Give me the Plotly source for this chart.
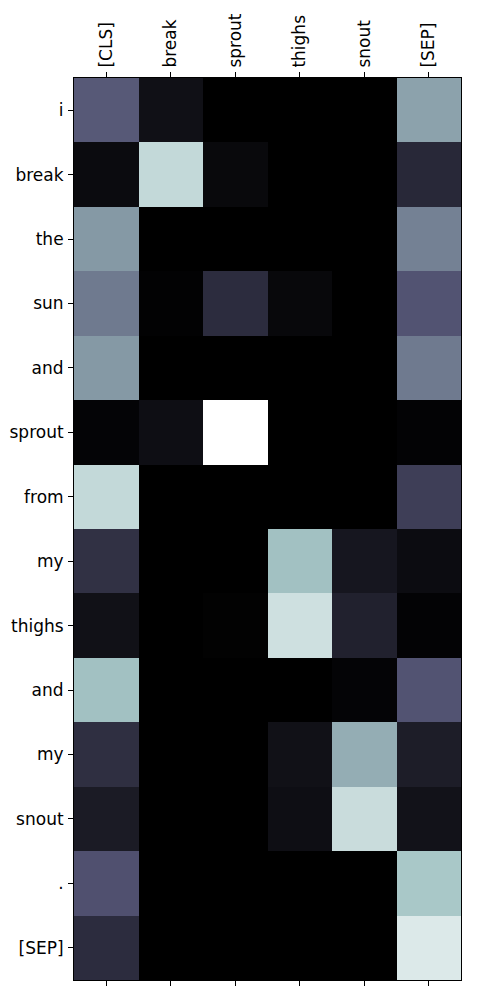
import plotly.graph_objects as go

col_labels = ["[CLS]", "break", "sprout", "thighs", "snout", "[SEP]"]
row_labels = ["i", "break", "the", "sun", "and", "sprout", "from", "my",
              "thighs", "and", "my", "snout", ".", "[SEP]"]

# attention weights (rows = query tokens, columns = key tokens)
row_i      = [0.39, 0.07, 0.0, 0.0, 0.0, 0.63]
row_break  = [0.05, 0.83, 0.04, 0.0, 0.0, 0.18]
row_the    = [0.60, 0.0, 0.0, 0.0, 0.0, 0.52]
row_sun    = [0.50, 0.01, 0.20, 0.035, 0.0, 0.37]
row_and    = [0.60, 0.0, 0.0, 0.0, 0.0, 0.50]
row_sprout = [0.02, 0.065, 1.0, 0.0, 0.0, 0.015]
row_from   = [0.83, 0.0, 0.0, 0.0, 0.0, 0.28]
row_my     = [0.22, 0.0, 0.0, 0.73, 0.10, 0.055]
row_thighs = [0.075, 0.0, 0.008, 0.86, 0.15, 0.015]
row_and2   = [0.73, 0.0, 0.0, 0.0, 0.02, 0.37]
row_my2    = [0.21, 0.0, 0.0, 0.075, 0.665, 0.13]
row_snout  = [0.12, 0.0, 0.0, 0.065, 0.845, 0.08]
row_dot    = [0.36, 0.0, 0.0, 0.0, 0.0, 0.755]
row_sep    = [0.20, 0.0, 0.0, 0.0, 0.0, 0.90]

z = [row_i, row_break, row_the, row_sun, row_and, row_sprout, row_from,
     row_my, row_thighs, row_and2, row_my2, row_snout, row_dot, row_sep]

bone = [
    [0.0, "rgb(0,0,0)"],
    [0.365079, "rgb(81,81,113)"],
    [0.746032, "rgb(166,198,198)"],
    [1.0, "rgb(255,255,255)"],
]

fig = go.Figure(go.Heatmap(
    z=z,
    x=list(range(len(col_labels))),
    y=list(range(len(row_labels))),
    colorscale=bone,
    zmin=0, zmax=1,
    showscale=False,
    xgap=0, ygap=0,
))

font = dict(family="DejaVu Sans", size=17, color="black")

fig.update_layout(
    width=500, height=1000,
    margin=dict(l=66, r=47, t=70, b=28, pad=0),
    paper_bgcolor="white", plot_bgcolor="white",
    font=font,
    xaxis=dict(
        side="top",
        automargin=False,
        tickmode="array",
        tickvals=list(range(len(col_labels))),
        ticktext=col_labels,
        tickangle=-90,
        ticks="outside", ticklen=5, tickwidth=1, tickcolor="black",
        ticklabelstandoff=1,
        showline=True, linecolor="black", linewidth=1,
        mirror="ticks",
        showgrid=False, zeroline=False,
        range=[-0.5, len(col_labels) - 0.5],
        tickfont=font,
    ),
    yaxis=dict(
        automargin=False,
        tickmode="array",
        tickvals=list(range(len(row_labels))),
        ticktext=row_labels,
        ticks="outside", ticklen=5, tickwidth=1, tickcolor="black",
        ticklabelstandoff=1,
        showline=True, linecolor="black", linewidth=1,
        mirror=True,
        showgrid=False, zeroline=False,
        range=[len(row_labels) - 0.5, -0.5],
        tickfont=font,
    ),
)

fig.write_html("out.html")
